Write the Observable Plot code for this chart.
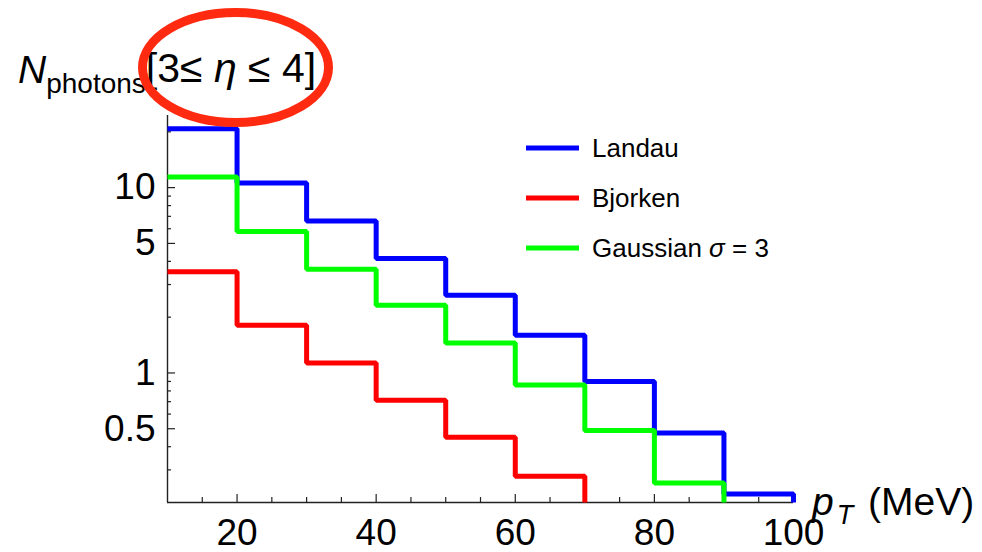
<!DOCTYPE html>
<html><head><meta charset="utf-8">
<script src="https://cdn.jsdelivr.net/npm/d3@7"></script>
<script src="https://cdn.jsdelivr.net/npm/@observablehq/plot@0.6"></script>
<style>
body{margin:0;background:#fff;}
#wrap{position:relative;width:982px;height:552px;}
</style></head><body><div id="wrap"></div>
<script>
const binEdges = [10,20,30,40,50,60,70,80,90,100];
const seriesNames = ["Landau","Bjorken","Gaussian"];
const seriesColors = ["#0000ff","#ff0000","#00ff00"];
const landau   = [20.8, 10.6, 6.6, 4.15, 2.63, 1.6, 0.90, 0.474, 0.222];
const bjorken  = [3.52, 1.81, 1.13, 0.713, 0.45, 0.277];
const gaussian = [11.4, 5.8, 3.63, 2.32, 1.45, 0.86, 0.49, 0.255];
const xTickLabels = [20,40,60,80,100];
const xMinorTicks = [15,25,30,35,45,50,55,65,70,75,85,90,95];
const yTickLabels = [0.5,1,5,10];
const yMinorTicks = [0.3,0.4,0.6,0.7,0.8,0.9,2,3,4,6,7,8,9,20];
const yDomain = [0.2, 24.5];

const W = 982, H = 552, mL = 167, mR = 189, mT = 115, mB = 50;
const fw = W - mL - mR, fh = H - mT - mB;
const font = "'Liberation Sans', Arial, Helvetica, sans-serif";

function stepRows(vals, name){
  const n = vals.length;
  const rows = vals.map((v,i)=>({x: binEdges[i], y: v, s: name}));
  rows.push({x: binEdges[n], y: vals[n-1], s: name});
  rows.push({x: binEdges[n], y: yDomain[0], s: name});
  return rows;
}
const allSeries = [landau, bjorken, gaussian];
const axisColor = "#222";

const svg = Plot.plot({
  width: W, height: H,
  marginLeft: mL, marginRight: mR, marginTop: mT, marginBottom: mB,
  style: {fontFamily: font, background: "white", color: "black"},
  x: {domain: [binEdges[0], binEdges[binEdges.length-1]]},
  y: {type: "log", domain: yDomain},
  marks: [
    Plot.ruleX([binEdges[0]], {stroke: axisColor, strokeWidth: 1.4}),
    Plot.ruleY([yDomain[0]], {stroke: axisColor, strokeWidth: 1.4}),
    Plot.tickX(xTickLabels, {x: d=>d, insetTop: fh-8, stroke: axisColor, strokeWidth: 1.2}),
    Plot.tickX(xMinorTicks, {x: d=>d, insetTop: fh-5, stroke: axisColor, strokeWidth: 1.2}),
    Plot.tickY(yTickLabels, {y: d=>d, insetRight: fw-8, stroke: axisColor, strokeWidth: 1.2}),
    Plot.tickY(yMinorTicks, {y: d=>d, insetRight: fw-4, stroke: axisColor, strokeWidth: 1.2}),
    ...allSeries.map((vals,i)=>Plot.line(stepRows(vals, seriesNames[i]), {
      x: "x", y: "y", curve: "step-after", stroke: seriesColors[i], strokeWidth: 5,
      strokeLinejoin: "miter", strokeLinecap: "butt"
    })),
    Plot.axisX(xTickLabels, {tickSize: 0, tickPadding: 16, fontSize: 37, label: null, fill: "black"}),
    Plot.axisY(yTickLabels, {tickSize: 0, tickPadding: 12, fontSize: 37, label: null, fill: "black", tickFormat: d=>String(d)})
  ]
});
document.getElementById("wrap").appendChild(svg);

const s = d3.select(svg);
const g = s.append("g").attr("text-anchor", "start").attr("font-family", font).attr("fill", "black");
// y-axis title
const t = g.append("text").attr("x", 18).attr("y", 83).attr("font-size", 39);
t.append("tspan").attr("font-style", "italic").text("N");
t.append("tspan").attr("font-size", 28).attr("dy", 10).text("photons");
t.append("tspan").attr("font-size", 41).attr("dy", -11).text("[3≤ ");
t.append("tspan").attr("font-size", 41).attr("font-style", "italic").text("η");
t.append("tspan").attr("font-size", 41).text(" ≤ 4]");
// x-axis title
const xl = g.append("text").attr("x", 812).attr("y", 515).attr("font-size", 39);
xl.append("tspan").attr("font-style", "italic").text("p");
xl.append("tspan").attr("font-style", "italic").attr("font-size", 27).attr("dx", 3).attr("dy", 9).text("T");
xl.append("tspan").attr("dy", -9).attr("dx", 4).text(" (MeV)");
// legend
seriesNames.forEach((name,i)=>{
  const y = 148 + 50*i;
  g.append("line").attr("x1", 526).attr("x2", 579).attr("y1", y).attr("y2", y)
    .attr("stroke", seriesColors[i]).attr("stroke-width", 5);
  const tx = g.append("text").attr("x", 592).attr("y", y + 9).attr("font-size", 26);
  tx.append("tspan").text(name);
  if (name === "Gaussian") {
    tx.append("tspan").text(" ");
    tx.append("tspan").attr("font-style", "italic").text("σ");
    tx.append("tspan").text(" = 3");
  }
});
// red annotation ellipse
s.append("ellipse").attr("cx", 235.5).attr("cy", 67.5).attr("rx", 93).attr("ry", 55)
  .attr("fill", "none").attr("stroke", "#ff2a10").attr("stroke-width", 9);
</script>
</body></html>
